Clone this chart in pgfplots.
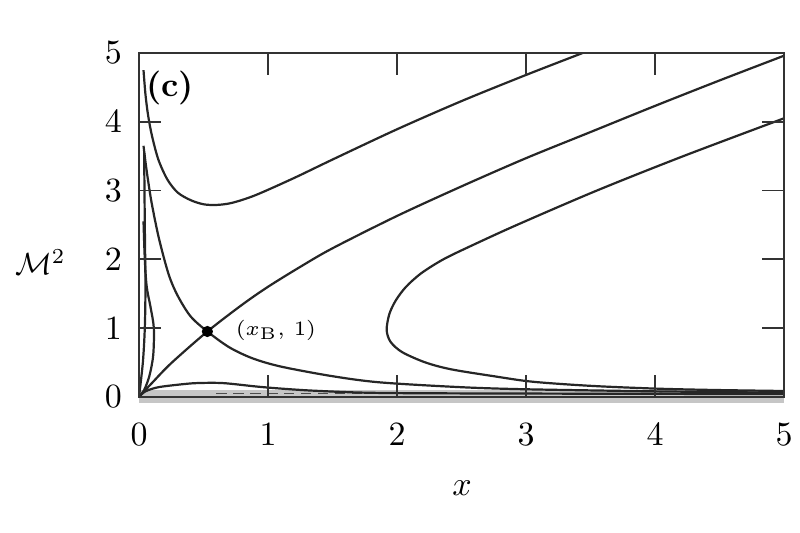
\documentclass[border=0pt]{standalone}
\usepackage{pgfplots}
\pgfplotsset{compat=1.18}
\begin{document}
\begin{tikzpicture}
\begin{axis}[
  scale only axis,
  width=190pt, height=101.3pt,
  xmin=0, xmax=5, ymin=0, ymax=5,
  xtick={0,1,2,3,4,5}, ytick={0,1,2,3,4,5},
  tick align=inside,
  major tick length=6.5pt,
  minor tick num=0,
  xticklabel style={yshift=-4.5pt},
  yticklabel style={xshift=-1.5pt},
  axis line style={black!80, line width=0.6pt},
  tick style={black!80, line width=0.5pt},
  axis on top,
  clip mode=individual,
  every axis plot/.append style={black!85, line width=0.65pt, mark=none},
]
\addplot[draw=gray!45, line width=3.8pt, clip=false] coordinates {(0,0.005) (5,0.005)};
\addplot[black!70, densely dashed, line width=0.5pt] coordinates {(0.6,0.05) (5,0.05)};
\addplot[white, dashed, line width=0.6pt] coordinates {(1.8,0.0) (5,0.0)};
% upper U curve
\addplot[smooth] coordinates {(0.035,4.75) (0.05,4.4) (0.07,4.1) (0.1,3.8) (0.15,3.45) (0.22,3.16) (0.3,2.97) (0.4,2.86) (0.5,2.8) (0.6,2.79) (0.72,2.82) (0.9,2.93) (1.2,3.18) (1.5,3.45) (2.0,3.89) (2.5,4.3) (3.0,4.68) (3.44,5.0)};
% middle curve through origin
\addplot[smooth] coordinates {(0,0) (0.1,0.2) (0.25,0.49) (0.53,0.95) (0.8,1.34) (1.0,1.6) (1.25,1.89) (1.5,2.16) (2.0,2.63) (2.5,3.06) (3.0,3.47) (3.5,3.85) (4.0,4.23) (4.5,4.6) (5,4.96)};
% right C-shaped curve
\addplot[smooth] coordinates {(5,4.05) (4.22,3.5) (3.55,3.0) (2.93,2.5) (2.58,2.2) (2.36,2.0) (2.19,1.8) (2.07,1.6) (1.99,1.4) (1.94,1.2) (1.92,0.97) (1.95,0.8) (2.04,0.65) (2.22,0.5) (2.42,0.4) (2.75,0.3) (3.05,0.22) (3.5,0.16) (4.0,0.12) (4.45,0.1) (5,0.085)};
% decreasing curve through the crossing
\addplot[smooth] coordinates {(0.035,3.65) (0.05,3.42) (0.07,3.15) (0.1,2.8) (0.155,2.3) (0.23,1.78) (0.3,1.47) (0.4,1.17) (0.53,0.95) (0.7,0.72) (0.88,0.56) (1.1,0.44) (1.5,0.3) (1.87,0.21) (2.5,0.14) (3.0,0.11) (4.0,0.08) (5,0.06)};
% thin loops near x=0
\addplot[smooth] coordinates {(0.035,2.55) (0.045,2.0) (0.06,1.6) (0.09,1.3) (0.115,1.0) (0.11,0.6) (0.08,0.3) (0.04,0.1) (0,0)};
\addplot[smooth] coordinates {(0.04,3.55) (0.045,2.5) (0.05,1.6) (0.045,1.0) (0.03,0.5) (0,0)};
% bottom curve
\addplot[smooth] coordinates {(0,0) (0.05,0.08) (0.15,0.14) (0.32,0.18) (0.45,0.2) (0.65,0.2) (0.91,0.15) (1.1,0.12) (1.35,0.09) (1.77,0.06) (2.5,0.05) (5,0.04)};
% crossing point
\addplot[only marks, mark=*, mark size=1.3pt, black] coordinates {(0.53,0.95)};
\node[font=\fontsize{6.5}{7}\selectfont, anchor=west, inner sep=0pt] at (axis cs:0.745,0.97) {$(x_{\mathrm{B}},\,1)$};
\node at (rel axis cs:0.048,0.898) {\textbf{(c)}};
\node[scale=0.9] at (rel axis cs:-0.153,0.392) {$\mathcal{M}^2$};
\node at (rel axis cs:0.5008,-0.265) {$x$};
\coordinate (bl) at (rel axis cs:-0.2155,-0.395);
\coordinate (tr) at (rel axis cs:1.0248,1.154);
\end{axis}
\pgfresetboundingbox
\path[use as bounding box] (bl) rectangle (tr);
\end{tikzpicture}
\end{document}
